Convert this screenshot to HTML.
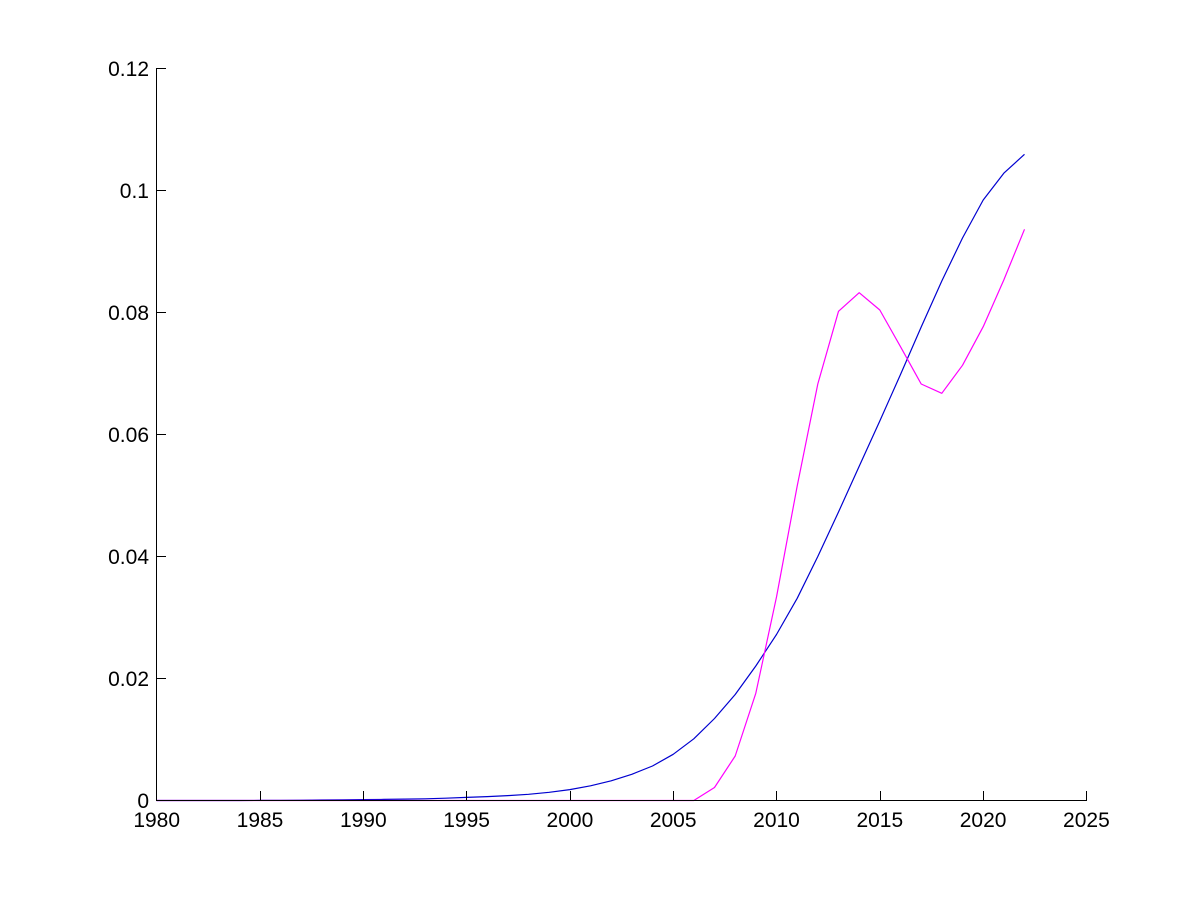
<!DOCTYPE html>
<html>
<head>
<meta charset="utf-8">
<style>
  html, body { margin: 0; padding: 0; background: #ffffff; }
  svg { display: block; }
  text { font-family: "Liberation Sans", Arial, sans-serif; font-size: 21px; fill: #000; }
</style>
</head>
<body>
<svg width="1200" height="900" viewBox="0 0 1200 900" xmlns="http://www.w3.org/2000/svg">
  <rect x="0" y="0" width="1200" height="900" fill="#ffffff"/>

  <!-- data lines -->
  <polyline fill="none" stroke="#0000d0" stroke-width="1.2" stroke-linejoin="round"
    points="156.5,800.5 177.2,800.5 197.8,800.5 218.5,800.5 239.2,800.5 259.8,800.4 280.5,800.3 301.2,800.2 321.8,800 342.5,799.8 363.2,799.6 383.8,799.4 404.5,799.1 425.2,798.8 445.8,798.2 466.5,797.4 487.2,796.6 507.8,795.6 528.5,794.3 549.2,792.3 569.8,789.6 590.5,785.8 611.2,780.8 631.8,774.3 652.5,766 673.2,754.3 693.8,738.8 714.5,718.5 735.2,694.5 755.8,666 776.5,634.5 797.2,598.3 817.8,556.5 838.5,512 859.2,466.3 879.8,421 900.5,374.5 921.2,327 941.8,281 962.5,238 983.2,200 1003.8,173.2 1024.5,154.3"/>

  <polyline fill="none" stroke="#ff00ff" stroke-width="1.2" stroke-linejoin="round"
    points="156.5,800.5 693.8,800.5 714.5,787.5 735.2,756 755.8,693.3 776.5,597 797.2,486 817.8,384 838.5,311.3 859.2,292.7 879.8,310 900.5,346.7 921.2,384 941.8,393.3 962.5,365.3 983.2,326.7 1003.8,280 1024.5,229.3"/>

  <!-- axes -->
  <g stroke="#000" stroke-width="1" shape-rendering="crispEdges" fill="none">
    <line x1="156.5" y1="68" x2="156.5" y2="801"/>
    <line x1="156" y1="800.5" x2="1087" y2="800.5"/>
    <!-- y ticks -->
    <line x1="156.5" y1="678.5" x2="166" y2="678.5"/>
    <line x1="156.5" y1="556.5" x2="166" y2="556.5"/>
    <line x1="156.5" y1="434.5" x2="166" y2="434.5"/>
    <line x1="156.5" y1="312.5" x2="166" y2="312.5"/>
    <line x1="156.5" y1="190.5" x2="166" y2="190.5"/>
    <line x1="156.5" y1="68.5" x2="166" y2="68.5"/>
    <!-- x ticks -->
    <line x1="260.5" y1="791" x2="260.5" y2="800"/>
    <line x1="363.5" y1="791" x2="363.5" y2="800"/>
    <line x1="466.5" y1="791" x2="466.5" y2="800"/>
    <line x1="570.5" y1="791" x2="570.5" y2="800"/>
    <line x1="673.5" y1="791" x2="673.5" y2="800"/>
    <line x1="776.5" y1="791" x2="776.5" y2="800"/>
    <line x1="880.5" y1="791" x2="880.5" y2="800"/>
    <line x1="983.5" y1="791" x2="983.5" y2="800"/>
    <line x1="1086.5" y1="791" x2="1086.5" y2="800"/>
  </g>

  <!-- y labels -->
  <g text-anchor="end">
    <text x="149" y="808">0</text>
    <text x="149" y="686">0.02</text>
    <text x="149" y="564">0.04</text>
    <text x="149" y="442">0.06</text>
    <text x="149" y="320">0.08</text>
    <text x="149" y="198">0.1</text>
    <text x="149" y="76">0.12</text>
  </g>

  <!-- x labels -->
  <g text-anchor="middle">
    <text x="156.7" y="827">1980</text>
    <text x="260" y="827">1985</text>
    <text x="363.3" y="827">1990</text>
    <text x="466.6" y="827">1995</text>
    <text x="569.9" y="827">2000</text>
    <text x="673.2" y="827">2005</text>
    <text x="776.5" y="827">2010</text>
    <text x="879.8" y="827">2015</text>
    <text x="983.1" y="827">2020</text>
    <text x="1086.4" y="827">2025</text>
  </g>
</svg>
</body>
</html>
